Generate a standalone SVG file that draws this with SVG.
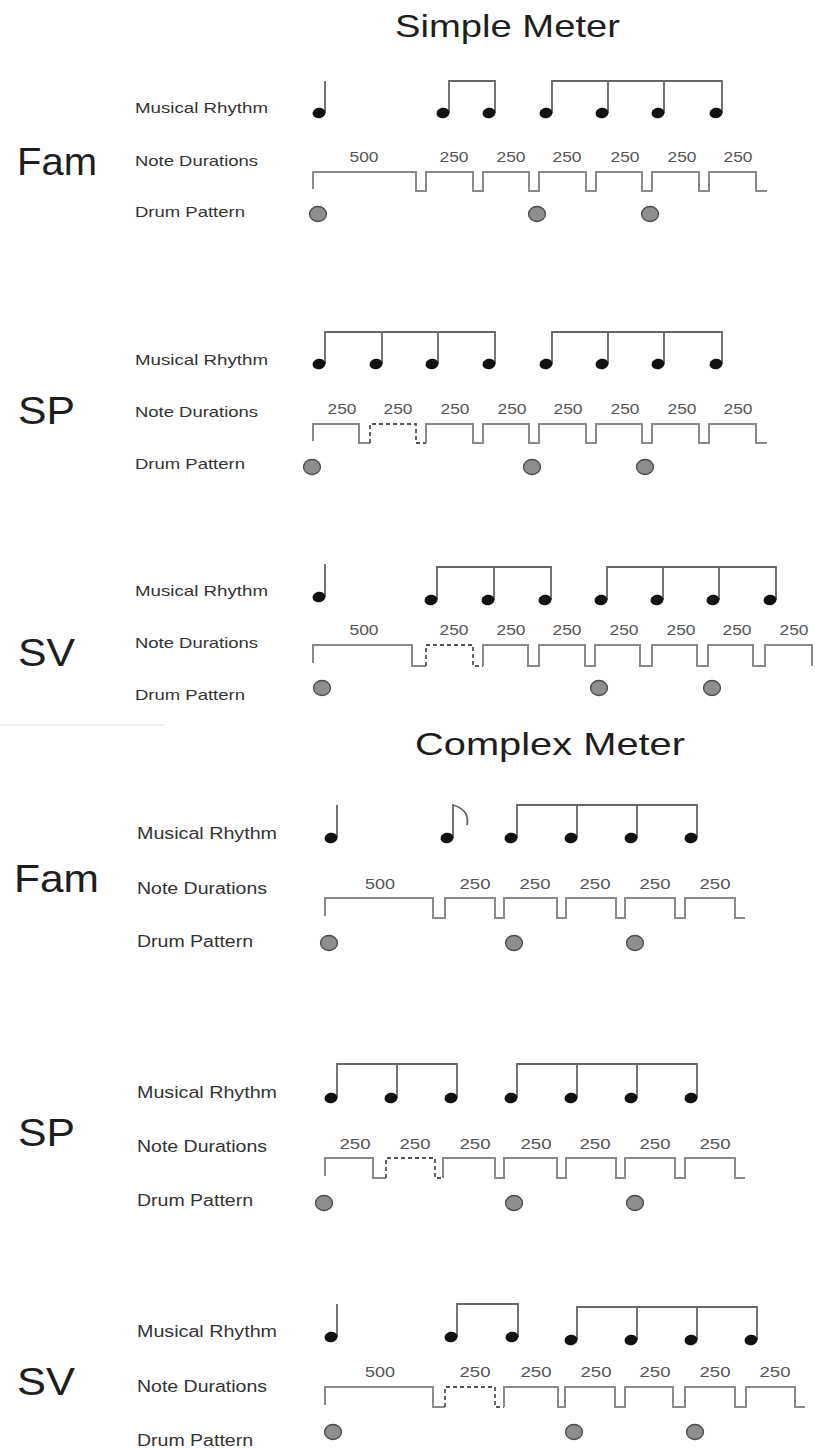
<svg xmlns="http://www.w3.org/2000/svg" xmlns:xlink="http://www.w3.org/1999/xlink" width="815" height="1449" viewBox="0 0 815 1449">
  <style>
    .title { font-family: "Liberation Sans", Arial, sans-serif; font-size: 32px; fill: #1e1e1e; }
    .cond  { font-family: "Liberation Sans", Arial, sans-serif; font-size: 39px; fill: #1e1e1e; }
    .row   { font-family: "Liberation Sans", Arial, sans-serif; font-size: 15px; fill: #333; }
    .rowc  { font-family: "Liberation Sans", Arial, sans-serif; font-size: 16px; fill: #333; }
    .num   { font-family: "Liberation Sans", Arial, sans-serif; font-size: 14.5px; fill: #555; text-anchor: middle; }
    .wave  { fill: none; stroke: #8a8a8a; stroke-width: 2; }
    .dash  { fill: none; stroke: #555; stroke-width: 1.8; stroke-dasharray: 4 3; }
    .stem  { fill: none; stroke: #666; stroke-width: 1.8; }
    .head  { fill: #111; }
    .drum  { fill: #8e8e8e; stroke: #4a4a4a; stroke-width: 1.3; }
  </style>
  <defs>
    <ellipse id="nh" class="head" cx="0" cy="0" rx="6.5" ry="5.3" transform="rotate(-12)"/>
    <ellipse id="dr" class="drum" cx="0" cy="0" rx="8.5" ry="7.5"/>
  </defs>

  <rect width="815" height="1449" fill="#fff"/>

  <!-- section titles -->
  <text class="title" x="395" y="37" textLength="225" lengthAdjust="spacingAndGlyphs">Simple Meter</text>
  <text class="title" x="415" y="755" textLength="270" lengthAdjust="spacingAndGlyphs">Complex Meter</text>
  <line x1="0" y1="725" x2="165" y2="725" stroke="#ececec" stroke-width="1.5"/>

  <!-- ===== Simple meter: Fam ===== -->
  <g id="simple-fam">
    <text class="cond" x="17" y="175" textLength="80" lengthAdjust="spacingAndGlyphs">Fam</text>
    <text class="row" x="135" y="113" textLength="133" lengthAdjust="spacingAndGlyphs">Musical Rhythm</text>
    <text class="row" x="135" y="166" textLength="123" lengthAdjust="spacingAndGlyphs">Note Durations</text>
    <text class="row" x="135" y="217" textLength="110" lengthAdjust="spacingAndGlyphs">Drum Pattern</text>
    <path class="stem" d="M325,113 V81 M449,113 V81 H495 V113 M552,113 V81 H722 V113 M608,81 V113 M664,81 V113"/>
    <use xlink:href="#nh" x="319" y="113"/>
    <use xlink:href="#nh" x="443" y="113"/>
    <use xlink:href="#nh" x="489" y="113"/>
    <use xlink:href="#nh" x="546" y="113"/>
    <use xlink:href="#nh" x="602" y="113"/>
    <use xlink:href="#nh" x="658" y="113"/>
    <use xlink:href="#nh" x="716" y="113"/>
    <g class="num">
      <text x="364" y="162" textLength="29" lengthAdjust="spacingAndGlyphs">500</text>
      <text x="454" y="162" textLength="29" lengthAdjust="spacingAndGlyphs">250</text>
      <text x="511" y="162" textLength="29" lengthAdjust="spacingAndGlyphs">250</text>
      <text x="567" y="162" textLength="29" lengthAdjust="spacingAndGlyphs">250</text>
      <text x="625" y="162" textLength="29" lengthAdjust="spacingAndGlyphs">250</text>
      <text x="682" y="162" textLength="29" lengthAdjust="spacingAndGlyphs">250</text>
      <text x="738" y="162" textLength="29" lengthAdjust="spacingAndGlyphs">250</text>
    </g>
    <path class="wave" d="M313,189 V172 H416 V191 H426 V172 H473 V191 H483 V172 H529 V191 H539 V172 H586 V191 H596 V172 H642 V191 H652 V172 H699 V191 H709 V172 H756 V191 H767"/>
    <use xlink:href="#dr" x="318" y="214"/>
    <use xlink:href="#dr" x="537" y="214"/>
    <use xlink:href="#dr" x="650" y="214"/>
  </g>

  <!-- ===== Simple meter: SP ===== -->
  <g id="simple-sp">
    <text class="cond" x="18" y="424" textLength="57" lengthAdjust="spacingAndGlyphs">SP</text>
    <text class="row" x="135" y="365" textLength="133" lengthAdjust="spacingAndGlyphs">Musical Rhythm</text>
    <text class="row" x="135" y="417" textLength="123" lengthAdjust="spacingAndGlyphs">Note Durations</text>
    <text class="row" x="135" y="469" textLength="110" lengthAdjust="spacingAndGlyphs">Drum Pattern</text>
    <path class="stem" d="M325,364 V332 H495 V364 M382,332 V364 M438,332 V364 M552,364 V332 H722 V364 M608,332 V364 M664,332 V364"/>
    <use xlink:href="#nh" x="319" y="364"/>
    <use xlink:href="#nh" x="376" y="364"/>
    <use xlink:href="#nh" x="432" y="364"/>
    <use xlink:href="#nh" x="489" y="364"/>
    <use xlink:href="#nh" x="546" y="364"/>
    <use xlink:href="#nh" x="602" y="364"/>
    <use xlink:href="#nh" x="658" y="364"/>
    <use xlink:href="#nh" x="716" y="364"/>
    <g class="num">
      <text x="342" y="414" textLength="29" lengthAdjust="spacingAndGlyphs">250</text>
      <text x="398" y="414" textLength="29" lengthAdjust="spacingAndGlyphs">250</text>
      <text x="455" y="414" textLength="29" lengthAdjust="spacingAndGlyphs">250</text>
      <text x="512" y="414" textLength="29" lengthAdjust="spacingAndGlyphs">250</text>
      <text x="568" y="414" textLength="29" lengthAdjust="spacingAndGlyphs">250</text>
      <text x="625" y="414" textLength="29" lengthAdjust="spacingAndGlyphs">250</text>
      <text x="682" y="414" textLength="29" lengthAdjust="spacingAndGlyphs">250</text>
      <text x="738" y="414" textLength="29" lengthAdjust="spacingAndGlyphs">250</text>
    </g>
    <path class="wave" d="M313,441 V424 H359 V443 H370"/>
    <path class="dash" d="M370,443 V424 H416 V443 H426"/>
    <path class="wave" d="M426,443 V424 H473 V443 H483 V424 H529 V443 H539 V424 H586 V443 H596 V424 H642 V443 H652 V424 H699 V443 H709 V424 H756 V443 H767"/>
    <use xlink:href="#dr" x="312" y="467"/>
    <use xlink:href="#dr" x="532" y="467"/>
    <use xlink:href="#dr" x="645" y="467"/>
  </g>

  <!-- ===== Simple meter: SV ===== -->
  <g id="simple-sv">
    <text class="cond" x="18" y="666" textLength="57" lengthAdjust="spacingAndGlyphs">SV</text>
    <text class="row" x="135" y="596" textLength="133" lengthAdjust="spacingAndGlyphs">Musical Rhythm</text>
    <text class="row" x="135" y="648" textLength="123" lengthAdjust="spacingAndGlyphs">Note Durations</text>
    <text class="row" x="135" y="700" textLength="110" lengthAdjust="spacingAndGlyphs">Drum Pattern</text>
    <path class="stem" d="M325,597 V564 M437,600 V567 H551 V600 M494,567 V600 M607,600 V567 H776 V600 M663,567 V600 M719,567 V600"/>
    <use xlink:href="#nh" x="319" y="597"/>
    <use xlink:href="#nh" x="431" y="600"/>
    <use xlink:href="#nh" x="488" y="600"/>
    <use xlink:href="#nh" x="545" y="600"/>
    <use xlink:href="#nh" x="601" y="600"/>
    <use xlink:href="#nh" x="657" y="600"/>
    <use xlink:href="#nh" x="713" y="600"/>
    <use xlink:href="#nh" x="770" y="600"/>
    <g class="num">
      <text x="364" y="635" textLength="29" lengthAdjust="spacingAndGlyphs">500</text>
      <text x="454" y="635" textLength="29" lengthAdjust="spacingAndGlyphs">250</text>
      <text x="511" y="635" textLength="29" lengthAdjust="spacingAndGlyphs">250</text>
      <text x="567" y="635" textLength="29" lengthAdjust="spacingAndGlyphs">250</text>
      <text x="624" y="635" textLength="29" lengthAdjust="spacingAndGlyphs">250</text>
      <text x="681" y="635" textLength="29" lengthAdjust="spacingAndGlyphs">250</text>
      <text x="737" y="635" textLength="29" lengthAdjust="spacingAndGlyphs">250</text>
      <text x="794" y="635" textLength="29" lengthAdjust="spacingAndGlyphs">250</text>
    </g>
    <path class="wave" d="M313,663 V645 H412 V666 H426"/>
    <path class="dash" d="M426,666 V645 H473 V666 H483"/>
    <path class="wave" d="M483,666 V645 H528 V666 H539 V645 H585 V666 H595 V645 H640 V666 H652 V645 H697 V666 H708 V645 H753 V666 H765 V645 H812 V666"/>
    <use xlink:href="#dr" x="322" y="688"/>
    <use xlink:href="#dr" x="599" y="688"/>
    <use xlink:href="#dr" x="712" y="688"/>
  </g>

  <!-- ===== Complex meter: Fam ===== -->
  <g id="complex-fam">
    <text class="cond" x="14" y="892" textLength="85" lengthAdjust="spacingAndGlyphs">Fam</text>
    <text class="rowc" x="137" y="839" textLength="140" lengthAdjust="spacingAndGlyphs">Musical Rhythm</text>
    <text class="rowc" x="137" y="894" textLength="130" lengthAdjust="spacingAndGlyphs">Note Durations</text>
    <text class="rowc" x="137" y="947" textLength="116" lengthAdjust="spacingAndGlyphs">Drum Pattern</text>
    <path class="stem" d="M337,838 V805 M453,838 V805 Q470,810 467,825 M517,838 V805 H697 V838 M577,805 V838 M637,805 V838"/>
    <use xlink:href="#nh" x="331" y="838"/>
    <use xlink:href="#nh" x="447" y="838"/>
    <use xlink:href="#nh" x="511" y="838"/>
    <use xlink:href="#nh" x="571" y="838"/>
    <use xlink:href="#nh" x="631" y="838"/>
    <use xlink:href="#nh" x="691" y="838"/>
    <g class="num">
      <text x="380" y="889" textLength="30" lengthAdjust="spacingAndGlyphs">500</text>
      <text x="475" y="889" textLength="31" lengthAdjust="spacingAndGlyphs">250</text>
      <text x="535" y="889" textLength="31" lengthAdjust="spacingAndGlyphs">250</text>
      <text x="595" y="889" textLength="31" lengthAdjust="spacingAndGlyphs">250</text>
      <text x="655" y="889" textLength="31" lengthAdjust="spacingAndGlyphs">250</text>
      <text x="715" y="889" textLength="31" lengthAdjust="spacingAndGlyphs">250</text>
    </g>
    <path class="wave" d="M325,916 V898 H433 V918 H445 V898 H495 V918 H504 V898 H557 V918 H566 V898 H616 V918 H625 V898 H675 V918 H685 V898 H735 V918 H745"/>
    <use xlink:href="#dr" x="329" y="943"/>
    <use xlink:href="#dr" x="514" y="943"/>
    <use xlink:href="#dr" x="635" y="943"/>
  </g>

  <!-- ===== Complex meter: SP ===== -->
  <g id="complex-sp">
    <text class="cond" x="18" y="1146" textLength="57" lengthAdjust="spacingAndGlyphs">SP</text>
    <text class="rowc" x="137" y="1098" textLength="140" lengthAdjust="spacingAndGlyphs">Musical Rhythm</text>
    <text class="rowc" x="137" y="1152" textLength="130" lengthAdjust="spacingAndGlyphs">Note Durations</text>
    <text class="rowc" x="137" y="1206" textLength="116" lengthAdjust="spacingAndGlyphs">Drum Pattern</text>
    <path class="stem" d="M337,1098 V1064 H457 V1098 M397,1064 V1098 M517,1098 V1064 H697 V1098 M577,1064 V1098 M637,1064 V1098"/>
    <use xlink:href="#nh" x="331" y="1098"/>
    <use xlink:href="#nh" x="391" y="1098"/>
    <use xlink:href="#nh" x="451" y="1098"/>
    <use xlink:href="#nh" x="511" y="1098"/>
    <use xlink:href="#nh" x="571" y="1098"/>
    <use xlink:href="#nh" x="631" y="1098"/>
    <use xlink:href="#nh" x="691" y="1098"/>
    <g class="num">
      <text x="355" y="1149" textLength="31" lengthAdjust="spacingAndGlyphs">250</text>
      <text x="415" y="1149" textLength="31" lengthAdjust="spacingAndGlyphs">250</text>
      <text x="475" y="1149" textLength="31" lengthAdjust="spacingAndGlyphs">250</text>
      <text x="536" y="1149" textLength="31" lengthAdjust="spacingAndGlyphs">250</text>
      <text x="595" y="1149" textLength="31" lengthAdjust="spacingAndGlyphs">250</text>
      <text x="655" y="1149" textLength="31" lengthAdjust="spacingAndGlyphs">250</text>
      <text x="715" y="1149" textLength="31" lengthAdjust="spacingAndGlyphs">250</text>
    </g>
    <path class="wave" d="M325,1176 V1158 H373 V1178 H386"/>
    <path class="dash" d="M386,1178 V1158 H435 V1178 H443"/>
    <path class="wave" d="M443,1178 V1158 H495 V1178 H504 V1158 H557 V1178 H566 V1158 H616 V1178 H625 V1158 H675 V1178 H685 V1158 H735 V1178 H745"/>
    <use xlink:href="#dr" x="324" y="1203"/>
    <use xlink:href="#dr" x="514" y="1203"/>
    <use xlink:href="#dr" x="635" y="1203"/>
  </g>

  <!-- ===== Complex meter: SV ===== -->
  <g id="complex-sv">
    <text class="cond" x="17" y="1395" textLength="58" lengthAdjust="spacingAndGlyphs">SV</text>
    <text class="rowc" x="137" y="1337" textLength="140" lengthAdjust="spacingAndGlyphs">Musical Rhythm</text>
    <text class="rowc" x="137" y="1392" textLength="130" lengthAdjust="spacingAndGlyphs">Note Durations</text>
    <text class="rowc" x="137" y="1446" textLength="116" lengthAdjust="spacingAndGlyphs">Drum Pattern</text>
    <path class="stem" d="M337,1337 V1304 M457,1337 V1304 H518 V1337 M577,1340 V1307 H757 V1340 M637,1307 V1340 M697,1307 V1340"/>
    <use xlink:href="#nh" x="331" y="1337"/>
    <use xlink:href="#nh" x="451" y="1337"/>
    <use xlink:href="#nh" x="512" y="1337"/>
    <use xlink:href="#nh" x="571" y="1340"/>
    <use xlink:href="#nh" x="631" y="1340"/>
    <use xlink:href="#nh" x="691" y="1340"/>
    <use xlink:href="#nh" x="751" y="1340"/>
    <g class="num">
      <text x="380" y="1377" textLength="30" lengthAdjust="spacingAndGlyphs">500</text>
      <text x="475" y="1377" textLength="31" lengthAdjust="spacingAndGlyphs">250</text>
      <text x="536" y="1377" textLength="31" lengthAdjust="spacingAndGlyphs">250</text>
      <text x="596" y="1377" textLength="31" lengthAdjust="spacingAndGlyphs">250</text>
      <text x="655" y="1377" textLength="31" lengthAdjust="spacingAndGlyphs">250</text>
      <text x="715" y="1377" textLength="31" lengthAdjust="spacingAndGlyphs">250</text>
      <text x="775" y="1377" textLength="31" lengthAdjust="spacingAndGlyphs">250</text>
    </g>
    <path class="wave" d="M325,1405 V1387 H433 V1407 H445"/>
    <path class="dash" d="M445,1407 V1387 H495 V1407 H504"/>
    <path class="wave" d="M504,1407 V1387 H558 V1407 H565 V1387 H615 V1407 H625 V1387 H673 V1407 H685 V1387 H735 V1407 H746 V1387 H795 V1407 H805"/>
    <use xlink:href="#dr" x="333" y="1432"/>
    <use xlink:href="#dr" x="574" y="1432"/>
    <use xlink:href="#dr" x="695" y="1432"/>
  </g>
</svg>
